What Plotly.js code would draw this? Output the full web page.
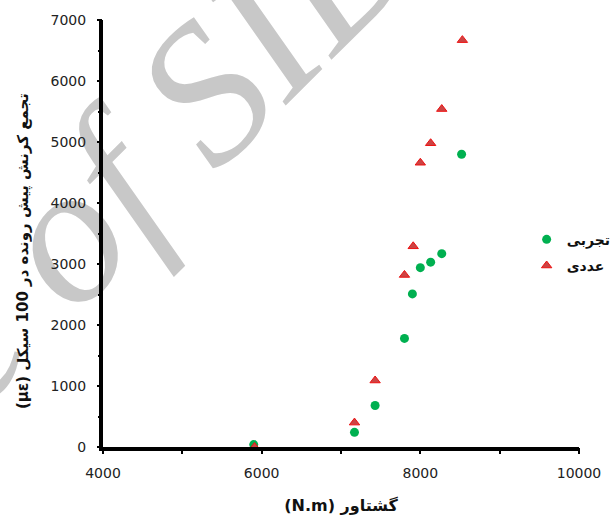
<!DOCTYPE html>
<html>
<head>
<meta charset="utf-8">
<script src="https://cdn.plot.ly/plotly-3.0.1.min.js"></script>
<style>
  html, body { margin: 0; padding: 0; background: #ffffff; }
  #chart { width: 614px; height: 515px; }
</style>
</head>
<body>
<div id="chart"></div>
<script>
// Torque (N.m) against accumulated ratcheting strain after 100 cycles (με)
const seriesNames = ['تجربی', 'عددی'];

// Experimental results
const expTorque = [5900, 7170, 7430, 7800, 7900, 8000, 8130, 8270, 8520];
const expStrain = [40, 240, 680, 1780, 2510, 2940, 3030, 3170, 4800];

// Numerical results
const numTorque = [5910, 7170, 7430, 7800, 7910, 8000, 8130, 8270, 8530];
const numStrain = [0, 400, 1090, 2820, 3290, 4660, 4980, 5540, 6670];

const xTitle = '(N.m) گشتاور';
const yTitle = '(με) تجمع کرنش پیش رونده در 100 سیکل';
const watermark = 'Archive of SID';

const baseFont = 'DejaVu Sans';

const traces = [
  {
    type: 'scatter',
    mode: 'markers',
    name: seriesNames[0],
    legendgroup: 'exp',
    x: expTorque,
    y: expStrain,
    cliponaxis: false,
    marker: { symbol: 'circle', size: 9, color: '#00b050' }
  },
  {
    type: 'scatter',
    mode: 'markers',
    name: seriesNames[1],
    legendgroup: 'num',
    x: numTorque,
    y: numStrain,
    cliponaxis: false,
    marker: {
      symbol: 'triangle-up',
      size: 9,
      color: '#cc4444',
      line: { color: '#ee1111', width: 1 }
    }
  }
];

const axisCommon = {
  ticks: 'outside',
  tickwidth: 2,
  tickcolor: '#000000',
  showline: false,
  showgrid: false,
  zeroline: false,
  tickformat: 'd',
  tickfont: { family: baseFont, size: 14, color: '#222222' }
};

const layout = {
  width: 614,
  height: 515,
  margin: { l: 103, r: 35, t: 20, b: 68, autoexpand: false },
  showlegend: true,
  legend: {
    x: 0.89, xanchor: 'left',
    y: 0.455, yanchor: 'middle',
    tracegroupgap: 5,
    font: { family: baseFont, size: 14, color: '#111111', weight: 'bold' }
  },
  xaxis: Object.assign({}, axisCommon, {
    range: [4000, 10000],
    tick0: 4000,
    dtick: 2000,
    ticklen: 6,
    ticklabelstandoff: 7,
    minor: { dtick: 1000, ticks: 'outside', ticklen: 6, tickwidth: 2, tickcolor: '#000000', showgrid: false },
    title: { text: xTitle, standoff: 22, font: { family: baseFont, size: 16, color: '#111111', weight: 'bold' } }
  }),
  yaxis: Object.assign({}, axisCommon, {
    range: [0, 7000],
    dtick: 1000,
    ticklen: 5,
    ticklabelstandoff: 8,
    minor: { dtick: 500, ticks: 'outside', ticklen: 4, tickwidth: 2, tickcolor: '#000000', showgrid: false }
  }),
  annotations: [
    {
      xref: 'paper', yref: 'paper',
      x: -0.168, y: 0.459,
      xanchor: 'center', yanchor: 'middle',
      textangle: -90,
      showarrow: false,
      text: yTitle,
      font: { family: baseFont, size: 15, color: '#111111', weight: 'bold' }
    }
  ],
  shapes: [
    {
      type: 'rect',
      xref: 'paper', yref: 'paper',
      x0: -0.305, x1: -0.304, y0: 0.325, y1: 0.326,
      layer: 'below',
      line: { width: 0 },
      label: {
        text: watermark,
        textangle: -45,
        textposition: 'middle center',
        xanchor: 'center',
        yanchor: 'middle',
        font: { family: 'Liberation Serif', size: 198, color: '#c8c8c8', style: 'italic' }
      }
    },
    // heavy black axis rules along the bottom and left edges of the plot area
    {
      type: 'line', xref: 'paper', yref: 'paper', layer: 'above',
      x0: -0.0084, x1: 1.0, y0: -0.0047, y1: -0.0047,
      line: { width: 4, color: '#000000' }
    },
    {
      type: 'line', xref: 'paper', yref: 'paper', layer: 'above',
      x0: -0.0042, x1: -0.0042, y0: -0.0094, y1: 1.0,
      line: { width: 4, color: '#000000' }
    }
  ]
};

Plotly.newPlot('chart', traces, layout, { displayModeBar: false, staticPlot: true }).then(function (gd) {
  // Re-stroke the two axis rules at full weight on top of the main drawing layer
  const mainSvg = gd.querySelector('svg.main-svg');
  const rules = [];
  gd.querySelectorAll('.shapelayer path').forEach(function (p) {
    const d = p.getAttribute('d') || '';
    if (d.indexOf('L') > 0 && d.indexOf('H') < 0 && d.indexOf('Z') < 0) rules.push(p);
  });
  rules.forEach(function (p) {
    const rule = document.createElementNS('http://www.w3.org/2000/svg', 'path');
    rule.setAttribute('d', p.getAttribute('d'));
    rule.setAttribute('fill', 'none');
    rule.setAttribute('stroke', '#000000');
    rule.setAttribute('stroke-width', '4');
    rule.setAttribute('stroke-linecap', 'butt');
    rule.style.stroke = '#000000';
    rule.style.strokeWidth = '4px';
    rule.style.strokeOpacity = '1';
    mainSvg.appendChild(rule);
  });
});
</script>
</body>
</html>
